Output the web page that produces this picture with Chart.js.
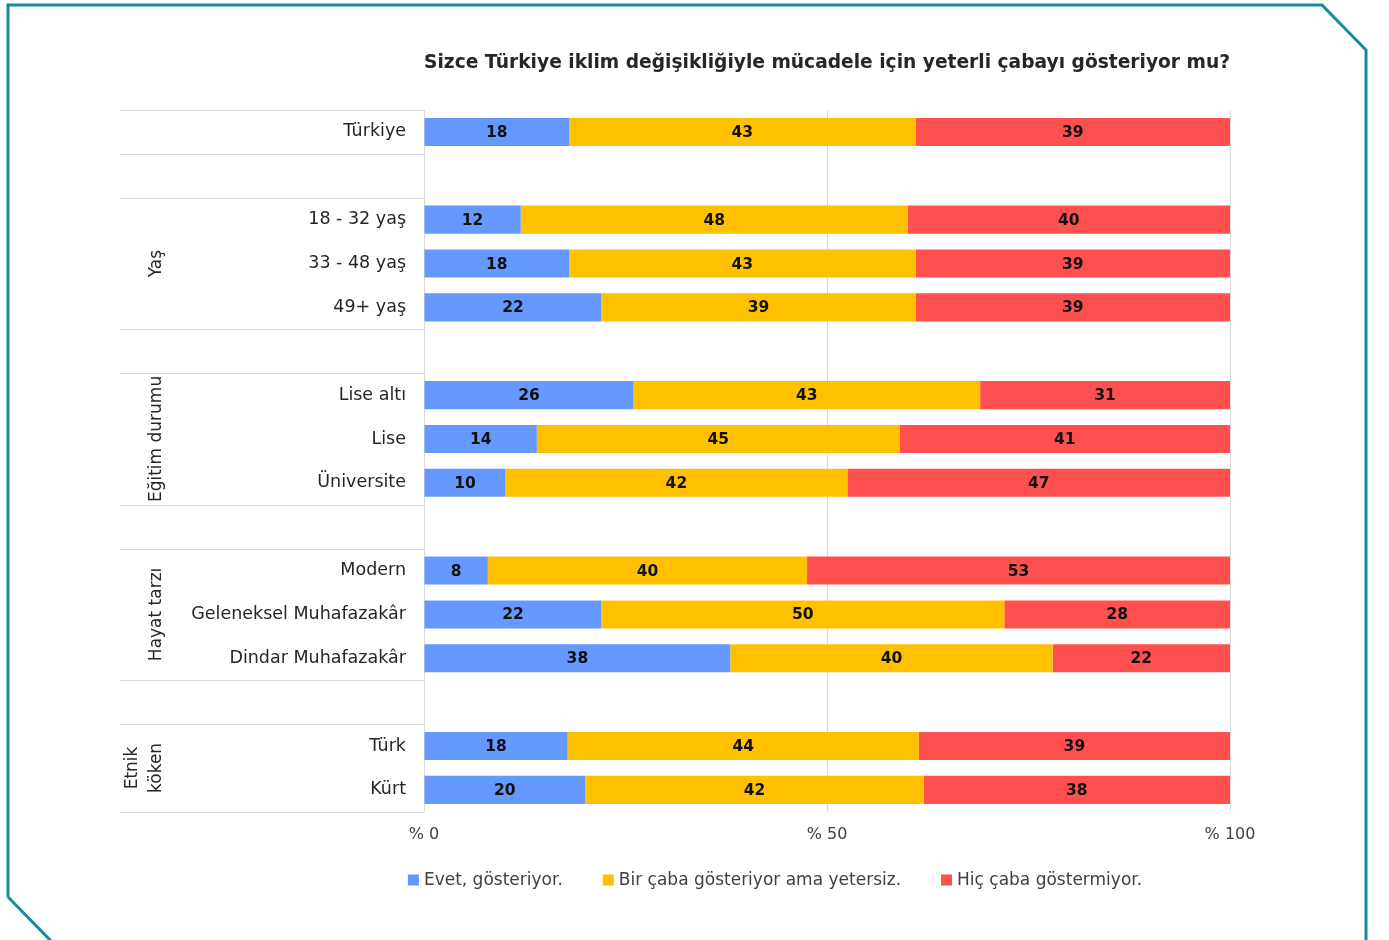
<!DOCTYPE html>
<html>
<head>
<meta charset="utf-8">
<script src="https://cdn.jsdelivr.net/npm/chart.js@4.4.0/dist/chart.umd.min.js"></script>
<style>
  html, body { margin: 0; padding: 0; background: #fff; }
  #wrap { width: 1389px; height: 940px; position: relative; }
</style>
</head>
<body>
<div id="wrap"><canvas id="iklimChart" width="1389" height="940"></canvas></div>
<script>
// satirlar (bos satirlar gruplar arasi bosluk)
const categories = ['Türkiye', '', '18 - 32 yaş', '33 - 48 yaş', '49+ yaş', '',
    'Lise altı', 'Lise', 'Üniversite', '',
    'Modern', 'Geleneksel Muhafazakâr', 'Dindar Muhafazakâr', '',
    'Türk', 'Kürt'];
const evet     = [18, null, 12, 18, 22, null, 26, 14, 10, null,  8, 22, 38, null, 18, 20];
const yetersiz = [43, null, 48, 43, 39, null, 43, 45, 42, null, 40, 50, 40, null, 44, 42];
const hic      = [39, null, 40, 39, 39, null, 31, 41, 47, null, 53, 28, 22, null, 39, 38];
const seriesNames = ['Evet, gösteriyor.', 'Bir çaba gösteriyor ama yetersiz.', 'Hiç çaba göstermiyor.'];
const xTicks = [0, 50, 100];
const groups = [
    { lines: ['Yaş'], from: 2, to: 4 },
    { lines: ['Eğitim durumu'], from: 6, to: 8 },
    { lines: ['Hayat tarzı'], from: 10, to: 12 },
    { lines: ['Etnik', 'köken'], from: 14, to: 15 }
];
const separators = [-0.5, 0.5, 1.5, 4.5, 5.5, 8.5, 9.5, 12.5, 13.5, 15.5];

const colors = ['#6699FF', '#FFC000', '#FF5050'];
const raw = [evet, yetersiz, hic];

// %100 yigilmis: her satiri toplamina gore olcekle
const totals = categories.map((c, i) => raw.reduce((s, arr) => s + (arr[i] || 0), 0));
const datasets = raw.map((arr, k) => ({
    label: seriesNames[k],
    data: arr.map((v, i) => v === null ? null : v / totals[i] * 100),
    backgroundColor: colors[k],
    borderWidth: 0,
    barPercentage: 0.64,
    categoryPercentage: 1
}));

const frameAndLabels = {
    id: 'frameAndLabels',
    beforeDraw(chart) {
        const ctx = chart.ctx;
        ctx.save();
        ctx.strokeStyle = '#168A9C';
        ctx.lineWidth = 3;
        ctx.beginPath();
        ctx.moveTo(8, 897);
        ctx.lineTo(8, 5);
        ctx.lineTo(1322, 5);
        ctx.lineTo(1366, 50);
        ctx.lineTo(1366, 942);
        ctx.moveTo(8, 897);
        ctx.lineTo(52, 942);
        ctx.stroke();
        ctx.restore();
    },
    afterDraw(chart) {
        const ctx = chart.ctx;
        const yScale = chart.scales.y;
        const area = chart.chartArea;
        ctx.save();
        // ayirici cizgiler
        ctx.strokeStyle = '#D9D9D9';
        ctx.lineWidth = 1;
        separators.forEach(s => {
            const y = Math.round(yScale.getPixelForValue(s)) + 0.5;
            ctx.beginPath();
            ctx.moveTo(120, y);
            ctx.lineTo(area.left, y);
            ctx.stroke();
        });
        // grup basliklari
        ctx.fillStyle = '#262626';
        ctx.font = '17px "DejaVu Sans"';
        ctx.textAlign = 'center';
        ctx.textBaseline = 'middle';
        groups.forEach(g => {
            const yc = (yScale.getPixelForValue(g.from) + yScale.getPixelForValue(g.to)) / 2;
            g.lines.forEach((t, li) => {
                const xc = 157 - (g.lines.length - 1 - li) * 24;
                ctx.save();
                ctx.translate(xc, yc);
                ctx.rotate(-Math.PI / 2);
                ctx.fillText(t, 0, 0);
                ctx.restore();
            });
        });
        // deger etiketleri
        ctx.fillStyle = '#111';
        ctx.font = 'bold 15.5px "DejaVu Sans"';
        chart.data.datasets.forEach((ds, k) => {
            const meta = chart.getDatasetMeta(k);
            meta.data.forEach((bar, i) => {
                const v = raw[k][i];
                if (v === null) return;
                ctx.fillText(String(v), (bar.x + bar.base) / 2, bar.y + 1);
            });
        });
        // lejant
        ctx.font = '17px "DejaVu Sans"';
        ctx.textAlign = 'left';
        const box = 11, boxGap = 5, itemGap = 40;
        const widths = seriesNames.map(n => box + boxGap + ctx.measureText(n).width);
        const total = widths.reduce((a, b) => a + b, 0) + itemGap * (widths.length - 1);
        let lx = 775 - total / 2;
        const ly = 880;
        seriesNames.forEach((n, k) => {
            ctx.fillStyle = colors[k];
            ctx.fillRect(lx, ly - box / 2, box, box);
            ctx.fillStyle = '#404040';
            ctx.fillText(n, lx + box + boxGap, ly + 1);
            lx += widths[k] + itemGap;
        });
        ctx.restore();
    }
};

new Chart(document.getElementById('iklimChart'), {
    type: 'bar',
    data: { labels: categories, datasets: datasets },
    options: {
        indexAxis: 'y',
        responsive: false,
        animation: false,
        layout: { padding: { left: 120, right: 159, top: 48, bottom: 83 } },
        scales: {
            x: {
                stacked: true,
                min: 0,
                max: 100,
                afterBuildTicks(scale) {
                    scale.ticks = xTicks.map(v => ({ value: v }));
                },
                ticks: {
                    callback: v => '% ' + v,
                    color: '#404040',
                    font: { family: '"DejaVu Sans"', size: 16 },
                    padding: 13,
                    maxRotation: 0
                },
                grid: { color: '#D9D9D9', drawTicks: false },
                border: { display: false }
            },
            y: {
                stacked: true,
                afterFit(scale) { scale.width = 304; },
                ticks: {
                    color: '#262626',
                    font: { family: '"DejaVu Sans"', size: 17.5 },
                    padding: 18,
                    autoSkip: false
                },
                grid: { display: false, drawTicks: false },
                border: { display: false }
            }
        },
        plugins: {
            title: {
                display: true,
                fullSize: false,
                text: 'Sizce Türkiye iklim değişikliğiyle mücadele için yeterli çabayı gösteriyor mu?',
                color: '#262626',
                font: { family: '"DejaVu Sans"', size: 20, weight: 'bold' },
                padding: { top: 3, bottom: 35 }
            },
            legend: { display: false },
            tooltip: { enabled: false }
        }
    },
    plugins: [frameAndLabels]
});
</script>
</body>
</html>
